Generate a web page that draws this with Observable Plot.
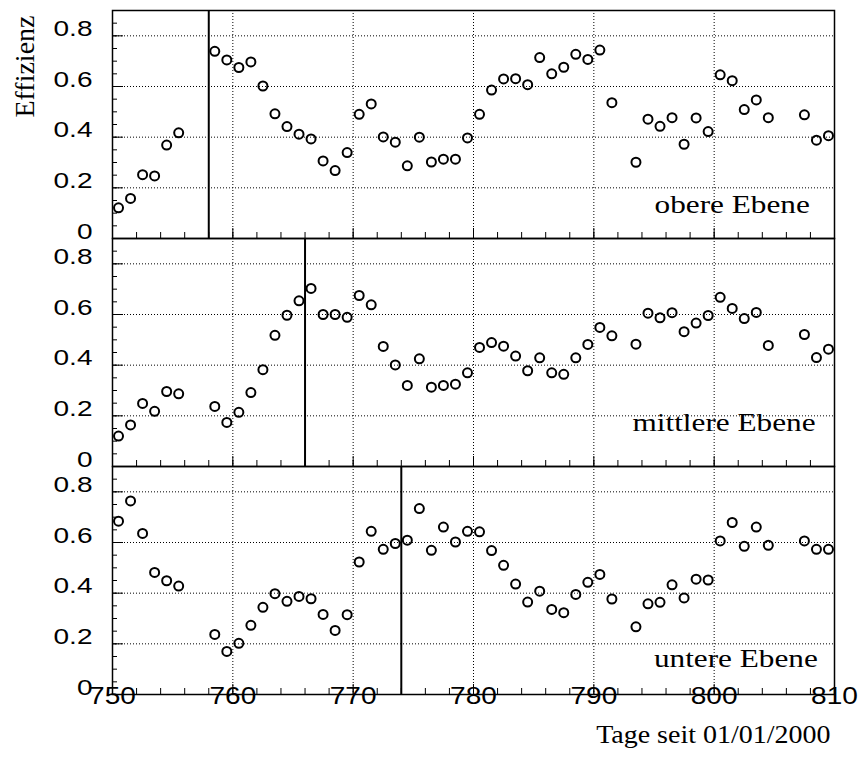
<!DOCTYPE html>
<html><head><meta charset="utf-8">
<script src="https://cdn.jsdelivr.net/npm/d3@7"></script>
<script src="https://cdn.jsdelivr.net/npm/@observablehq/plot@0.6"></script>
<style>body{margin:0;background:#fff}</style>
</head><body><div id="chart"></div>
<script>
const days = [750.5,751.5,752.5,753.5,754.5,755.5,
  758.5,759.5,760.5,761.5,762.5,763.5,764.5,765.5,766.5,767.5,768.5,769.5,770.5,771.5,772.5,773.5,774.5,775.5,776.5,777.5,778.5,779.5,780.5,781.5,782.5,783.5,784.5,785.5,786.5,787.5,788.5,789.5,790.5,791.5,
  793.5,794.5,795.5,796.5,797.5,798.5,799.5,800.5,801.5,802.5,803.5,804.5,
  807.5,808.5,809.5];
const obere = [0.121,0.158,0.252,0.247,0.369,0.417,
  0.739,0.705,0.675,0.697,0.602,0.492,0.442,0.412,0.393,0.306,0.268,0.339,0.490,0.531,0.401,0.380,0.287,0.400,0.302,0.313,0.313,0.397,0.490,0.586,0.630,0.631,0.607,0.714,0.650,0.676,0.727,0.707,0.744,0.536,
  0.301,0.471,0.443,0.477,0.372,0.476,0.422,0.646,0.623,0.509,0.547,0.477,
  0.488,0.388,0.406];
const mittlere = [0.120,0.164,0.249,0.218,0.296,0.287,
  0.237,0.174,0.214,0.292,0.382,0.518,0.597,0.654,0.703,0.600,0.600,0.589,0.675,0.638,0.474,0.401,0.320,0.425,0.313,0.320,0.325,0.370,0.470,0.489,0.475,0.436,0.378,0.429,0.370,0.364,0.429,0.482,0.549,0.516,
  0.483,0.605,0.587,0.607,0.532,0.566,0.596,0.668,0.624,0.584,0.608,0.478,
  0.521,0.430,0.463];
const untere = [0.684,0.764,0.636,0.482,0.449,0.428,
  0.237,0.170,0.202,0.273,0.344,0.398,0.368,0.387,0.378,0.316,0.253,0.315,0.523,0.644,0.573,0.596,0.609,0.734,0.569,0.661,0.602,0.644,0.642,0.568,0.510,0.436,0.365,0.408,0.336,0.323,0.395,0.443,0.474,0.377,
  0.267,0.358,0.364,0.433,0.381,0.455,0.452,0.606,0.679,0.585,0.661,0.589,
  0.606,0.573,0.573];
const panels = ["obere Ebene", "mittlere Ebene", "untere Ebene"];
const markerDays = [758, 766, 774];
const xTicks = [750, 760, 770, 780, 790, 800, 810];
const xGrid = [760, 770, 780, 790, 800];
const yTicks = [0, 0.2, 0.4, 0.6, 0.8];
const yTickLabels = ["0", "0.2", "0.4", "0.6", "0.8"];
const yGrid = [0.2, 0.4, 0.6, 0.8];
const xTitle = "Tage seit 01/01/2000";
const yTitle = "Effizienz";

const series = [obere, mittlere, untere];
const points = panels.flatMap((p, i) => days.map((d, j) => ({panel: p, day: d, eff: series[i][j]})));
const markers = panels.map((p, i) => ({panel: p, day: markerDays[i]}));
const labelRows = panels.map(p => ({panel: p, label: p}));
const yFormat = d => yTickLabels[yTicks.indexOf(d)];

const W = 859, H = 762, ML = 112, MR = 25, MT = 10, MB = 67.5;
const xDomain = [750, 810], yDomain = [0, 0.9];
const panelH = (H - MT - MB) / panels.length;
const panelW = W - ML - MR;
// tick lengths (pixels) converted to data units so the ticks point inward
const yLen = px => (yDomain[1] - yDomain[0]) * px / panelH;
const xLen = px => (xDomain[1] - xDomain[0]) * px / panelW;

const serif = "Liberation Serif, Times New Roman, serif";
const panelLabel = (i, dx, dy) => Plot.text([labelRows[i]], {
  fy: "panel", text: "label", frameAnchor: "bottom-right", textAnchor: "end", lineAnchor: "middle",
  dx, dy, fontFamily: serif, fontSize: 25, fill: "black", className: "stretch-panel"
});

const chart = Plot.plot({
  width: W, height: H,
  marginLeft: ML, marginRight: MR, marginTop: MT, marginBottom: MB,
  x: {domain: xDomain},
  y: {domain: yDomain},
  fy: {domain: panels, padding: 0, axis: null, label: null},
  style: {fontFamily: "Liberation Sans, Arial, sans-serif", color: "black", background: "white"},
  marks: [
    Plot.gridX(xGrid, {stroke: "black", strokeOpacity: 1, strokeWidth: 1, strokeDasharray: "1,2"}),
    Plot.gridY(yGrid, {stroke: "black", strokeOpacity: 1, strokeWidth: 1, strokeDasharray: "1,2"}),
    Plot.ruleX(markers, {x: "day", fy: "panel", stroke: "black", strokeWidth: 2}),
    Plot.dot(points, {x: "day", y: "eff", fy: "panel", r: 4.5, stroke: "black", strokeWidth: 2, fill: "none"}),
    // inward ticks in every panel (minor and major)
    Plot.ruleX(d3.range(750, 811, 2), {x: d => d, y1: yDomain[0], y2: yDomain[0] + yLen(6), stroke: "black", strokeWidth: 1}),
    Plot.ruleX(xTicks, {x: d => d, y1: yDomain[0], y2: yDomain[0] + yLen(10), stroke: "black", strokeWidth: 1}),
    Plot.ruleY(d3.range(0, 0.9, 0.05), {y: d => d, x1: xDomain[0], x2: xDomain[0] + xLen(5), stroke: "black", strokeWidth: 1}),
    Plot.ruleY(yTicks, {y: d => d, x1: xDomain[0], x2: xDomain[0] + xLen(11), stroke: "black", strokeWidth: 1}),
    Plot.frame({stroke: "black", strokeWidth: 1.5}),
    // tick labels
    Plot.axisX({ticks: xTicks, tickSize: 0, tickPadding: 9.5, fontSize: 23, label: null}),
    Plot.axisY({ticks: yTicks, tickFormat: yFormat, tickSize: 0, tickPadding: 20, fontSize: 22, label: null, facetAnchor: null}),
    // panel labels
    panelLabel(0, -24.7, -26),
    panelLabel(1, -19, -36),
    panelLabel(2, -16.7, -27.5),
    // axis titles
    Plot.text([{panel: panels[2], label: xTitle}], {
      fy: "panel", text: "label", frameAnchor: "bottom-right", textAnchor: "end", lineAnchor: "middle",
      dx: -4, dy: 48.5, fontFamily: serif, fontSize: 25, fill: "black", className: "stretch-xtitle"
    }),
    Plot.text([{panel: panels[0], label: yTitle}], {
      fy: "panel", text: "label", frameAnchor: "top-left", textAnchor: "end", lineAnchor: "middle",
      rotate: -90, dx: -87, dy: 5, fontFamily: serif, fontSize: 28, fill: "black"
    })
  ]
});

function stretch(root, selector, k) {
  root.querySelectorAll(selector).forEach(t => {
    const x = t.getAttribute("x"), y = t.getAttribute("y");
    let tr = t.getAttribute("transform") || "";
    if (x !== null || y !== null) {
      tr += ` translate(${+x || 0},${+y || 0})`;
      t.removeAttribute("x"); t.removeAttribute("y");
    }
    t.setAttribute("transform", tr + ` scale(${k},1)`);
  });
}
stretch(chart, 'g[aria-label="x-axis tick label"] text', 1.22);
stretch(chart, 'g[aria-label="y-axis tick label"] text', 1.275);
stretch(chart, '.stretch-panel text', 1.25);
stretch(chart, '.stretch-xtitle text', 1.12);

document.getElementById("chart").appendChild(chart);
</script>
</body></html>
